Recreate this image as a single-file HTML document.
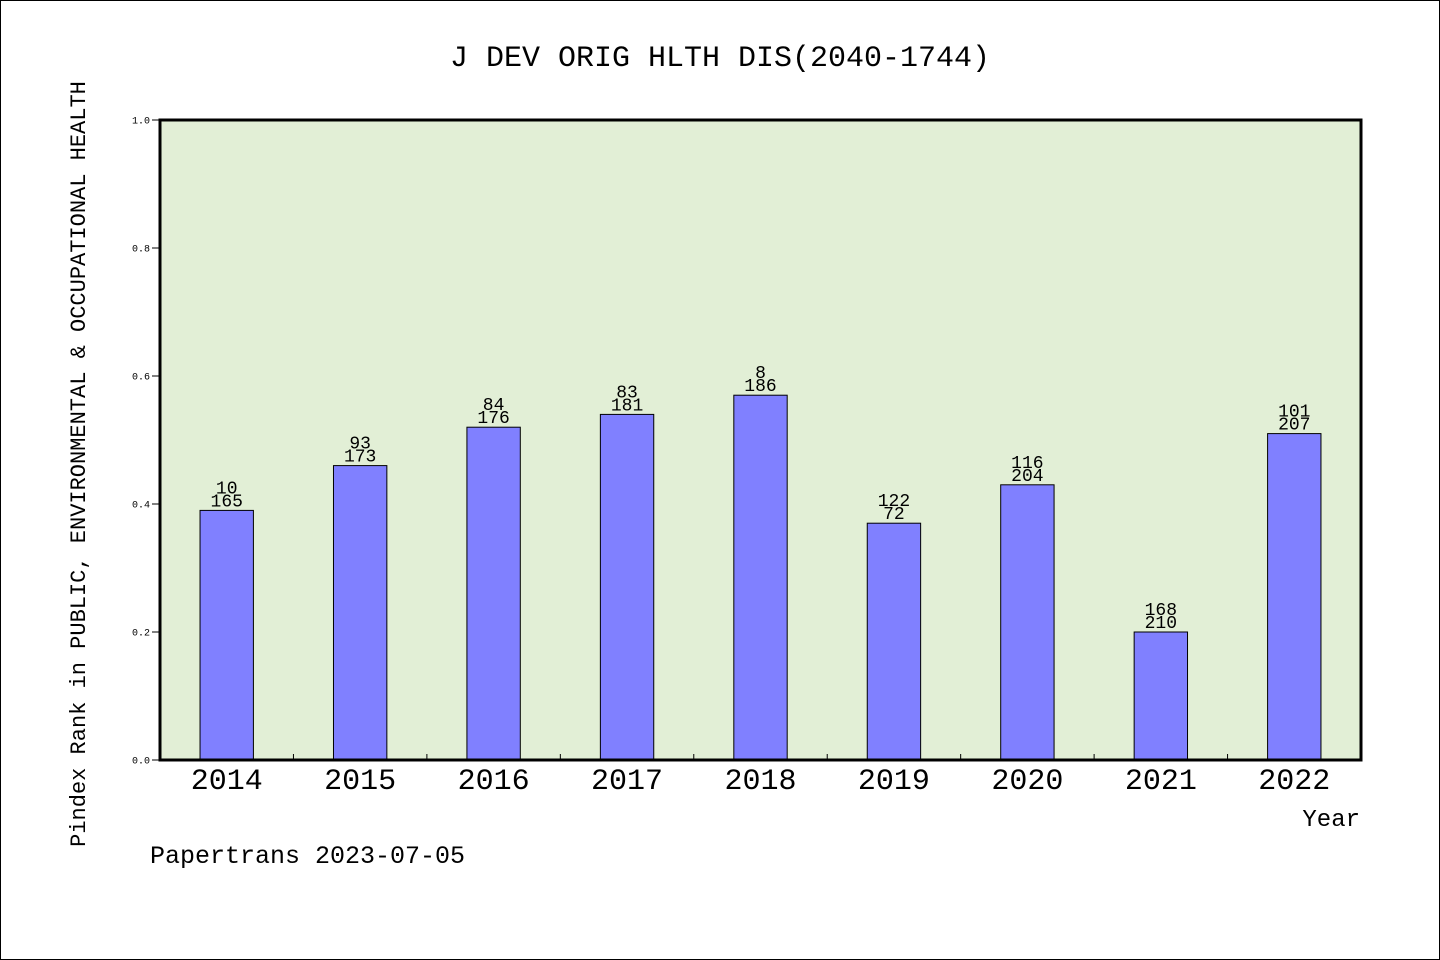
<!DOCTYPE html>
<html><head><meta charset="utf-8"><style>
html,body{margin:0;padding:0;background:#fff}
#frame{position:absolute;left:0;top:0;width:1438px;height:958px;border:1px solid #000;}
text{font-family:"Liberation Mono","WenQuanYi Zen Hei",monospace;fill:#000}
</style></head><body>
<div id="frame"></div>
<svg id="chart" width="1440" height="960" style="position:absolute;left:0;top:0">
<text x="720" y="66" font-size="30" text-anchor="middle">J DEV ORIG HLTH DIS(2040-1744)</text>
<rect x="160" y="120" width="1201" height="640" fill="#e2efd6"/>
<g id="bars"></g>
<g id="axes"></g>
<rect x="160" y="120" width="1201" height="640" fill="none" stroke="#000" stroke-width="3"/>
<text x="1360" y="826" font-size="24" text-anchor="end">Year</text>
<text transform="translate(85,464) rotate(-90)" font-size="22" text-anchor="middle">Pindex Rank in PUBLIC, ENVIRONMENTAL &amp; OCCUPATIONAL HEALTH</text>
<text x="150" y="863" font-size="25">Papertrans 2023-07-05</text>
</svg>
<script>
const categories=["2014","2015","2016","2017","2018","2019","2020","2021","2022"];
const values=[0.39,0.46,0.52,0.54,0.57,0.37,0.43,0.20,0.51];
const topLabels=["10","93","84","83","8","122","116","168","101"];
const bottomLabels=["165","173","176","181","186","72","204","210","207"];
const yTicks=[0,0.2,0.4,0.6,0.8,1.0];
const yTickLabels=["0.0","0.2","0.4","0.6","0.8","1.0"];
const NS="http://www.w3.org/2000/svg";
const X0=160,X1=1361,Y0=760,Y1=120;
const band=(X1-X0)/categories.length;
const xC=i=>X0+band*(i+0.5);
const yS=v=>Y0-(Y0-Y1)*v;
function mk(t,a){const e=document.createElementNS(NS,t);for(const k in a)e.setAttribute(k,a[k]);return e;}
const bars=document.getElementById('bars'),axes=document.getElementById('axes');
categories.forEach((c,i)=>{
 const w=band*0.4,y=yS(values[i]);
 const r=mk('rect',{x:xC(i)-w/2,y:y,width:w,height:Y0-y,fill:'#8080ff',stroke:'#000','stroke-width':1});
 
 
 bars.appendChild(r);
 const t1=mk('text',{x:xC(i),y:y-17,'font-size':18,'text-anchor':'middle'});t1.textContent=topLabels[i];
 
 
 bars.appendChild(t1);
 const t2=mk('text',{x:xC(i),y:y-4,'font-size':18,'text-anchor':'middle'});t2.textContent=bottomLabels[i];
 
 
 bars.appendChild(t2);
 const xl=mk('text',{x:xC(i),y:789,'font-size':30,'text-anchor':'middle'});xl.textContent=c;
 
 
 axes.appendChild(xl);
 if(i>0){const tk=mk('line',{x1:X0+band*i,x2:X0+band*i,y1:Y0,y2:Y0-6,stroke:'#000'});
 
 
 axes.appendChild(tk);}
});
yTicks.forEach((v,i)=>{
 const tk=mk('line',{x1:X0-8,x2:X0,y1:yS(v),y2:yS(v),stroke:'#000'});
 
 
 axes.appendChild(tk);
 const t=mk('text',{x:X0-10,y:yS(v)+3.5,'font-size':10,'text-anchor':'end'});t.textContent=yTickLabels[i];
 
 
 axes.appendChild(t);
});
</script>
</body></html>
